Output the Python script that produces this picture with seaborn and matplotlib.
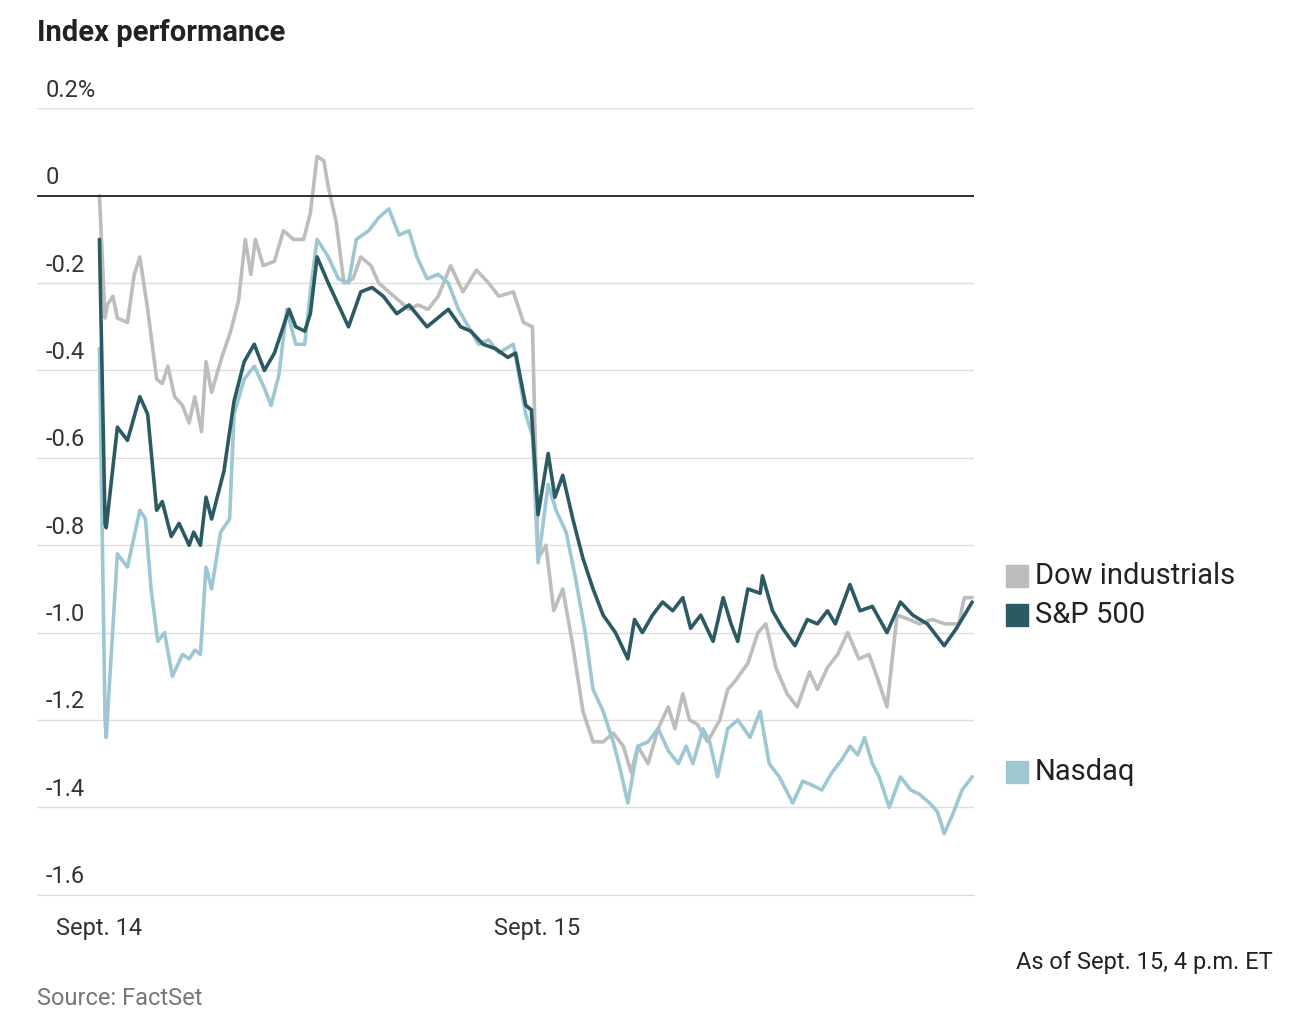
import numpy as np
import pandas as pd
import matplotlib
matplotlib.use("Agg")
import matplotlib.pyplot as plt
import seaborn as sns

# minutes since Sept. 14 open (Sept. 15 open = 390, close = 780), % change
sp_t = [0, 5, 6, 16, 25, 36, 43, 51, 56, 64, 71, 80, 84, 90, 95, 100, 111, 120, 129, 138, 147, 156, 169, 175, 183, 188, 194, 204, 213, 222, 233, 243, 253, 265, 276, 292, 311, 322, 331, 342, 353, 364, 371, 380, 385, 391, 400, 406, 413, 422, 431, 440, 449, 460, 471, 477, 484, 493, 502, 511, 520, 527, 536, 547, 556, 563, 569, 578, 589, 591, 600, 609, 620, 631, 640, 649, 656, 669, 678, 689, 702, 714, 725, 738, 753, 764, 778]
sp_v = [-0.1, -0.75, -0.76, -0.53, -0.56, -0.46, -0.5, -0.72, -0.70, -0.78, -0.75, -0.8, -0.77, -0.8, -0.69, -0.74, -0.63, -0.47, -0.38, -0.34, -0.4, -0.36, -0.26, -0.3, -0.31, -0.27, -0.14, -0.2, -0.25, -0.3, -0.22, -0.21, -0.23, -0.27, -0.25, -0.3, -0.26, -0.3, -0.31, -0.34, -0.35, -0.37, -0.36, -0.48, -0.49, -0.73, -0.59, -0.69, -0.64, -0.74, -0.83, -0.9, -0.96, -1.0, -1.06, -0.97, -1.0, -0.96, -0.93, -0.95, -0.92, -0.99, -0.96, -1.02, -0.92, -0.98, -1.02, -0.9, -0.91, -0.87, -0.95, -0.99, -1.03, -0.97, -0.98, -0.95, -0.98, -0.89, -0.95, -0.94, -1.0, -0.93, -0.96, -0.98, -1.03, -0.99, -0.93]

dow_t = [0, 5, 7, 12, 16, 25, 31, 36, 43, 51, 56, 61, 67, 74, 80, 85, 91, 95, 100, 109, 117, 124, 130, 135, 139, 146, 156, 164, 173, 182, 188, 194, 200, 204, 211, 218, 226, 233, 242, 249, 258, 267, 276, 284, 293, 302, 313, 324, 336, 347, 356, 369, 378, 386, 391, 398, 405, 413, 422, 431, 440, 449, 458, 467, 474, 480, 489, 498, 507, 513, 520, 526, 533, 542, 553, 560, 567, 578, 587, 594, 603, 613, 622, 633, 640, 649, 658, 667, 677, 686, 693, 702, 711, 722, 731, 742, 754, 766, 771, 778]
dow_v = [0.0, -0.28, -0.25, -0.23, -0.28, -0.29, -0.18, -0.14, -0.26, -0.42, -0.43, -0.39, -0.46, -0.48, -0.52, -0.46, -0.54, -0.38, -0.45, -0.37, -0.31, -0.24, -0.1, -0.18, -0.1, -0.16, -0.15, -0.08, -0.1, -0.1, -0.04, 0.09, 0.08, 0.02, -0.06, -0.2, -0.19, -0.14, -0.16, -0.2, -0.22, -0.24, -0.26, -0.25, -0.26, -0.23, -0.16, -0.22, -0.17, -0.2, -0.23, -0.22, -0.29, -0.3, -0.83, -0.8, -0.95, -0.9, -1.03, -1.18, -1.25, -1.25, -1.23, -1.26, -1.32, -1.26, -1.3, -1.22, -1.17, -1.22, -1.14, -1.2, -1.21, -1.25, -1.2, -1.13, -1.11, -1.07, -1.0, -0.98, -1.08, -1.14, -1.17, -1.09, -1.13, -1.08, -1.05, -1.0, -1.06, -1.05, -1.1, -1.17, -0.96, -0.97, -0.98, -0.97, -0.98, -0.98, -0.92, -0.92]

nas_t = [0, 5, 6, 16, 25, 36, 41, 46, 52, 58, 65, 74, 80, 85, 90, 95, 100, 108, 116, 120, 129, 138, 147, 153, 160, 167, 175, 183, 188, 194, 204, 213, 222, 229, 240, 249, 258, 267, 276, 283, 292, 302, 311, 320, 329, 338, 347, 356, 369, 380, 386, 391, 400, 407, 416, 424, 433, 440, 449, 458, 464, 471, 480, 489, 498, 507, 516, 523, 529, 538, 544, 551, 560, 569, 580, 589, 597, 606, 618, 627, 636, 644, 653, 662, 669, 676, 682, 689, 695, 704, 714, 723, 731, 740, 747, 753, 760, 769, 778]
nas_v = [-0.35, -1.2, -1.24, -0.82, -0.85, -0.72, -0.74, -0.9, -1.02, -1.0, -1.1, -1.05, -1.06, -1.04, -1.05, -0.85, -0.9, -0.77, -0.74, -0.5, -0.42, -0.39, -0.44, -0.48, -0.41, -0.26, -0.34, -0.34, -0.22, -0.1, -0.14, -0.19, -0.2, -0.1, -0.08, -0.05, -0.03, -0.09, -0.08, -0.14, -0.19, -0.18, -0.2, -0.26, -0.3, -0.34, -0.33, -0.36, -0.34, -0.5, -0.55, -0.84, -0.66, -0.72, -0.77, -0.87, -1.0, -1.13, -1.18, -1.25, -1.31, -1.39, -1.26, -1.25, -1.22, -1.27, -1.3, -1.26, -1.3, -1.22, -1.25, -1.33, -1.22, -1.2, -1.24, -1.18, -1.3, -1.33, -1.39, -1.34, -1.35, -1.36, -1.32, -1.29, -1.26, -1.28, -1.24, -1.3, -1.33, -1.4, -1.33, -1.36, -1.37, -1.39, -1.41, -1.46, -1.42, -1.36, -1.33]

series = ["Dow industrials", "S&P 500", "Nasdaq"]
colors = {"Dow industrials": "#bdbdbd", "S&P 500": "#2c5a63", "Nasdaq": "#9dc7d3"}
y_ticks = [0.2, 0, -0.2, -0.4, -0.6, -0.8, -1.0, -1.2, -1.4, -1.6]
y_labels = ["0.2%", "0", "-0.2", "-0.4", "-0.6", "-0.8", "-1.0", "-1.2", "-1.4", "-1.6"]
x_ticks = [0, 390]
x_labels = ["Sept. 14", "Sept. 15"]

df = pd.concat([
    pd.DataFrame({"t": dow_t, "v": dow_v, "index": "Dow industrials"}),
    pd.DataFrame({"t": nas_t, "v": nas_v, "index": "Nasdaq"}),
    pd.DataFrame({"t": sp_t, "v": sp_v, "index": "S&P 500"}),
])

sns.set_style("white")
plt.rcParams["font.family"] = ["Liberation Sans Narrow", "Roboto", "DejaVu Sans"]

fig = plt.figure(figsize=(13.08, 10.32), dpi=100)
ax = fig.add_axes([0.028, 0.133, 0.717, 0.762])
sns.lineplot(data=df, x="t", y="v", hue="index", palette=colors, linewidth=2.6,
             hue_order=["Dow industrials", "Nasdaq", "S&P 500"], legend=False,
             estimator=None, sort=False, ax=ax)

ax.set_xlim(-56, 780)
ax.set_ylim(-1.6, 0.2)
ax.set_yticks(y_ticks)
ax.set_yticklabels([])
ax.tick_params(axis="y", length=0)
ax.grid(axis="y", color="#dddddd", linewidth=1)
ax.axhline(0, color="#222222", linewidth=1.3)
for v, lab in zip(y_ticks, y_labels):
    ax.text(-48, v + 0.015, lab, fontsize=17, color="#333333", va="bottom", ha="left")
ax.set_xticks(x_ticks)
ax.set_xticklabels(x_labels, fontsize=17, color="#333333")
ax.tick_params(axis="x", length=6, width=1.2, color="#333333", pad=10)
ax.set_xlabel("")
ax.set_ylabel("")
for s in ["top", "right", "left"]:
    ax.spines[s].set_visible(False)
ax.spines["bottom"].set_color("#dddddd")

# direct labels
for name, yv in [("Dow industrials", -0.87), ("S&P 500", -0.96), ("Nasdaq", -1.32)]:
    ax.scatter([818], [yv], marker="s", s=260, color=colors[name], clip_on=False)
    ax.text(834, yv, name, fontsize=21, color="#222222", va="center", clip_on=False)

fig.text(0.028, 0.968, "Index performance", fontsize=21, fontweight="bold", color="#222222", va="center")
fig.text(0.028, 0.032, "Source: FactSet", fontsize=17, color="#777777", va="center")
fig.text(0.973, 0.067, "As of Sept. 15, 4 p.m. ET", fontsize=17, color="#222222", va="center", ha="right")

fig.savefig("out.png", dpi=100)
